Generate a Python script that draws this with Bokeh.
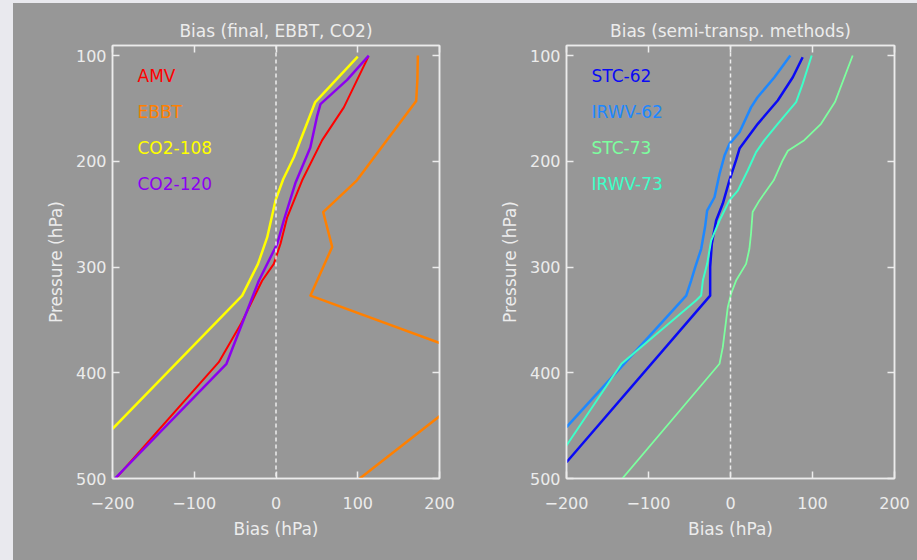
from bokeh.plotting import figure
from bokeh.models import Range1d, LinearAxis, FixedTicker, Span, Label, Spacer, CustomJSTickFormatter
from bokeh.layouts import row, column
from bokeh.embed import file_html
from bokeh.resources import INLINE

# ---------------- data ----------------
PRESS_TICKS = [100, 200, 300, 400, 500]
BIAS_TICKS = [-200, -100, 0, 100, 200]

# left panel: Bias (final, EBBT, CO2)
amv_bias = [113, 83, 56.5, 32, 13.7, 5.5, -2.7, -17, -43, -70, -196]
amv_p = [101, 149, 180, 218, 253, 278, 297, 313, 354, 390, 500]

ebbt_bias = [173.5, 173, 171.5, 99, 57.7, 68.7, 42.2, 278, 102.5]
ebbt_p = [100, 122, 143, 218, 248, 281, 327, 394, 500]

co2_108_bias = [100, 48, 22, 8.8, -0.6, -10.8, -22, -41.4, -200]
co2_108_p = [101, 144, 196, 217, 237, 272, 297, 327, 453]

co2_120_bias = [113.5, 87, 54.4, 50.4, 42, 24, 9.5, 1.5, -21, -60.6, -197]
co2_120_p = [100, 123, 146, 157, 187, 220, 256, 278, 313, 391.5, 500]

# right panel: Bias (semi-transp. methods)
stc62_bias = [88, 76, 57.6, 33.3, 11, 6.8, -1.3, -9.4, -17.5, -22.8, -24.8, -24.8, -200]
stc62_p = [101.6, 120.5, 142.5, 164.6, 188, 199, 218, 240, 256, 278, 300, 327, 484.6]

irwv62_bias = [73, 53.6, 33, 25, 11, -1.2, -7.3, -13.4, -19.5, -28.5, -31, -35.8, -43, -48, -54, -200]
irwv62_p = [100, 120.5, 139.4, 149, 172.5, 183.5, 194.6, 212, 234, 246.6, 262, 283, 300, 312.8, 327, 451.4]

stc73_bias = [149, 127.4, 110.4, 90, 70, 63.7, 52.7, 35.3, 27, 25, 23, 19, 6.8, 0.8, -3.3, -9.4, -13.4, -133]
stc73_p = [100, 144, 164.6, 180, 190, 199, 218, 237, 248, 268.6, 283, 297, 312.8, 325, 338, 375.8, 391.5, 501]

irwv73_bias = [99, 88, 80, 57.6, 41.4, 31.2, 21, 8.9, -1.3, -13.4, -23.6, -28.5, -33.7, -35.8, -42, -133, -200]
irwv73_p = [100, 126.8, 144, 164.6, 180, 191.4, 208.7, 227.7, 237, 256, 275, 297, 312.8, 327, 331.7, 391.5, 468.8]

left_names = ["AMV", "EBBT", "CO2-108", "CO2-120"]
right_names = ["STC-62", "IRWV-62", "STC-73", "IRWV-73"]

# ---------------- style ----------------
BG = "#979797"
FG = "#ececec"
OUTER = "#e9e9ee"
FONT = "DejaVu Sans"

left_series = [
    (amv_bias, amv_p, "#ff0000", 2.0),
    (ebbt_bias, ebbt_p, "#ff8000", 2.5),
    (co2_108_bias, co2_108_p, "#ffff00", 2.5),
    (co2_120_bias, co2_120_p, "#8c00f0", 2.5),
]
right_series = [
    (stc62_bias, stc62_p, "#0a0af5", 2.5),
    (irwv62_bias, irwv62_p, "#1e88ff", 2.5),
    (stc73_bias, stc73_p, "#7dff9f", 1.8),
    (irwv73_bias, irwv73_p, "#3dffc8", 2.0),
]


def style_axis(ax, ticks, show_labels):
    ax.ticker = FixedTicker(ticks=ticks)
    ax.major_tick_in = 7
    ax.major_tick_out = 0
    ax.minor_tick_line_color = None
    ax.major_tick_line_color = FG
    ax.major_tick_line_width = 1.5
    ax.axis_line_color = FG
    ax.axis_line_width = 1.5
    ax.major_label_text_color = FG
    ax.major_label_text_font = FONT
    if show_labels:
        ax.major_label_text_font_size = "16px"
    else:
        ax.formatter = CustomJSTickFormatter(code="return ''")
        ax.major_label_text_font_size = "0px"
        ax.major_label_standoff = 0
    ax.axis_label_text_color = FG
    ax.axis_label_text_font = FONT
    ax.axis_label_text_font_size = "17px"
    ax.axis_label_text_font_style = "normal"


def make_panel(title, width, border_left, border_right, series, names):
    p = figure(width=width, height=557, output_backend="svg", toolbar_location=None,
               x_range=Range1d(-200, 200), y_range=Range1d(500, 90.5),
               min_border_left=border_left, min_border_right=border_right,
               min_border_top=42, min_border_bottom=82,
               background_fill_color=BG, border_fill_color=BG,
               outline_line_color=FG, outline_line_width=1.5,
               title=title, x_axis_label="Bias (hPa)", y_axis_label="Pressure (hPa)")
    p.grid.visible = False
    p.title.text_font = FONT
    p.title.text_font_size = "17px"
    p.title.text_font_style = "normal"
    p.title.text_color = FG
    p.title.align = "center"

    style_axis(p.xaxis[0], BIAS_TICKS, True)
    style_axis(p.yaxis[0], PRESS_TICKS, True)
    p.xaxis[0].major_label_standoff = 18
    p.xaxis[0].axis_label_standoff = 7
    p.yaxis[0].major_label_standoff = 6
    p.yaxis[0].axis_label_standoff = 7

    top = LinearAxis()
    style_axis(top, BIAS_TICKS, False)
    p.add_layout(top, "above")
    right = LinearAxis()
    style_axis(right, PRESS_TICKS, False)
    p.add_layout(right, "right")

    p.add_layout(Span(location=0, dimension="height", line_color=FG,
                      line_width=1.5, line_dash="4 3"))

    for (xs, ys, color, lw) in series:
        p.line(xs, ys, line_color=color, line_width=lw, line_join="round")

    for i, (name, s) in enumerate(zip(names, series)):
        p.add_layout(Label(x=25, y=403 - 36 * i, x_units="screen", y_units="screen",
                           text=name, text_color=s[2], text_font=FONT,
                           text_font_size="17px", text_baseline="middle", text_align="left"))
    return p


p1 = make_panel("Bias (final, EBBT, CO2)", 445, 99, 19, left_series, left_names)
p2 = make_panel("Bias (semi-transp. methods)", 459, 108, 23, right_series, right_names)

top_strip = Spacer(width=917, height=3, styles={"background-color": OUTER})
left_strip = Spacer(width=13, height=557, styles={"background-color": OUTER})
panels = row(left_strip, p1, p2, styles={"background-color": BG})
layout = column(top_strip, panels, styles={"background-color": BG})

open("out.html", "w").write(file_html(layout, INLINE))
